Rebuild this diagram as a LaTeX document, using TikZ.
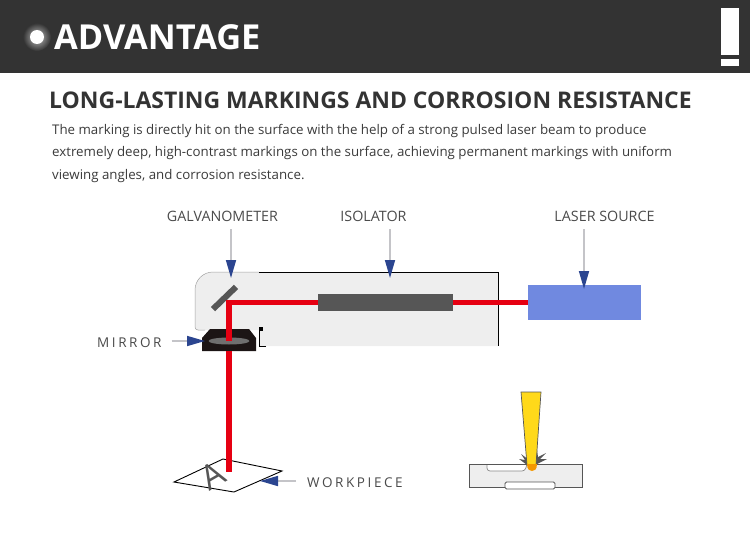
\documentclass[tikz,border=0pt]{standalone}
\usepackage{fontspec}
\setmainfont{Open Sans}
\usetikzlibrary{
    arrows.meta,
    positioning,
    shapes.geometric,
}
\definecolor{headerGrey}{HTML}{333333}
\definecolor{inkGrey}{HTML}{3A3A3A}
\definecolor{labelGrey}{HTML}{4A4A4A}
\definecolor{housingGrey}{HTML}{EEEEEE}
\definecolor{partGrey}{HTML}{565656}
\definecolor{beamRed}{HTML}{E60012}
\definecolor{laserBlue}{HTML}{7089E0}
\definecolor{tipBlue}{HTML}{2B4590}
\definecolor{shaftGrey}{HTML}{C4C4C8}
\definecolor{lensBlack}{HTML}{1C1515}
\definecolor{sparkYellow}{HTML}{FFD91A}
\definecolor{meltOrange}{HTML}{F39800}

\begin{document}
\begin{tikzpicture}[
    x=1pt, y=-1pt,
    heading/.style={anchor=west, inner sep=0pt, font=\bfseries},
    bodyline/.style={anchor=west, inner sep=0pt, text=inkGrey, font=\fontsize{13.3}{15}\selectfont},
    partlabel/.style={inner sep=0pt, minimum height=26pt, text=labelGrey, font=\fontsize{14.3}{15}\selectfont},
    widelabel/.style={inner sep=0pt, text=labelGrey, font=\fontsize{13.5}{15}\selectfont\addfontfeatures{LetterSpace=19}},
    pointer/.style={draw=shaftGrey, line width=1.6pt,
                    -{Triangle[length=18pt, width=10pt, color=tipBlue]}},
    beam/.style={draw=beamRed, line width=5.2pt},
    spark/.style={fill=partGrey, draw=none}
]
\useasboundingbox (0,0) rectangle (750,535);

% header band
\fill[headerGrey] (0,0) rectangle (750,73);
\shade[inner color=white!70!headerGrey, outer color=headerGrey] (37,37) circle (14);
\node[circle, fill=white, minimum size=14pt, inner sep=0pt] (dot) at (37,37) {};
\node[heading, text=white, font=\bfseries\fontsize{34.4}{36}\selectfont] (advantage) at (54,37) {ADVANTAGE};
\node[fill=white, minimum width=18pt, minimum height=47pt, inner sep=0pt, anchor=north west] (barLong) at (721,8) {};
\node[fill=white, minimum width=18pt, minimum height=7pt, inner sep=0pt, below=3pt of barLong] (barShort) {};

% title and text
\node[heading, text=headerGrey, font=\bfseries\fontsize{22.95}{26}\selectfont] (title) at (49,100) {LONG-LASTING MARKINGS AND CORROSION RESISTANCE};
\node[bodyline] (lineOne) at (52,131) {The marking is directly hit on the surface with the help of a strong pulsed laser beam to produce};
\node[bodyline] (lineTwo) at (52,153.5) {extremely deep, high-contrast markings on the surface, achieving permanent markings with uniform};
\node[bodyline] (lineThree) at (52,176) {viewing angles, and corrosion resistance.};

% housing
\fill[housingGrey] (498,272) [rounded corners=18pt] -- (195,272) [rounded corners=3pt] -- (195,330) [sharp corners] -- (259,330) -- (259,346) -- (498,346) -- cycle;
\draw[partGrey!55, line width=0.5pt] (259,272) [rounded corners=18pt] -- (195,272) [rounded corners=3pt] -- (195,330) [sharp corners] -- (205,330);
\draw[black, line width=0.9pt] (259,272) -- (498,272) -- (498,346);
\draw[black, line width=0.9pt] (266,346) -- (259.5,346) -- (259.5,329);
\fill[black] (259,327) rectangle (263,331);

% optics
\node[rectangle, fill=partGrey, minimum width=135pt, minimum height=17pt, inner sep=0pt] (isolator) at (385.5,302.5) {};
\node[rectangle, fill=laserBlue, minimum width=113pt, minimum height=35pt, inner sep=0pt] (laser) at (584.5,302.5) {};
\node[rectangle, fill=partGrey, minimum width=32pt, minimum height=6pt, inner sep=0pt, rotate=44] (galvoMirror) at (224.5,298) {};

\coordinate (bend) at (229,302.5);
\coordinate (lensTop) at (229,341);
\coordinate (lensExit) at (229,351);
\coordinate (spot) at (229,472);
\draw[beam] (laser.west) -- (isolator.east);
\draw[beam] (isolator.west) -- (bend.center) -- (lensTop);

% focus lens
\fill[lensBlack] (210,329) -- (249,329) -- (256,338) -- (256,351) -- (202,351) -- (202,338) -- cycle;
\node[ellipse, fill=partGrey!85!white, minimum width=41pt, minimum height=7pt, inner sep=0pt] (lens) at (229,341) {};
\draw[beam] (229,329) -- (lensTop);
\draw[beam] (lensExit) -- (spot);

% workpiece
\draw[black, line width=0.9pt] (174,482) -- (223,459) -- (282,471) -- (234,492) -- cycle;
\draw[beam] (229,459) -- (spot);
\node[inner sep=0pt, rotate=30, text=partGrey, font=\fontsize{34}{35}\selectfont] (letterA) at (213,476) {A};

% labels and pointers
\node[partlabel] (galvoLabel) at (222.5,216) {GALVANOMETER};
\node[partlabel] (isolatorLabel) at (373.5,216) {ISOLATOR};
\node[partlabel] (laserLabel) at (604.5,216) {LASER SOURCE};
\node[widelabel, anchor=west] (mirrorLabel) at (97,343) {MIRROR};
\node[widelabel, anchor=west] (workLabel) at (307,483) {WORKPIECE};

\coordinate (galvoTip) at (231,278);
\coordinate (isolatorTip) at (390,278);
\coordinate (laserTip) at (584,289);
\coordinate (mirrorTip) at (205,341);
\coordinate (workTip) at (260,481);
\draw[pointer] (galvoLabel.south -| galvoTip) -- (galvoTip);
\draw[pointer] (isolatorLabel.south -| isolatorTip) -- (isolatorTip);
\draw[pointer] (laserLabel.south -| laserTip) -- (laserTip);
\draw[pointer, shorten <=10pt] (mirrorLabel.east |- mirrorTip) -- (mirrorTip);
\draw[pointer, shorten <=11pt] (workLabel.west |- workTip) -- (workTip);

% marking detail
\draw[fill=housingGrey, draw=partGrey, line width=1pt] (469,464) rectangle (582,487);
\draw[fill=white, draw=partGrey!70, line width=0.7pt, rounded corners=3pt] (487,464) -- (487,471) -- (525,471) -- (527,464);
\draw[partGrey, line width=1pt] (486,464) -- (530,464);
\draw[fill=white, draw=partGrey, line width=0.8pt, rounded corners=1.5pt] (505,482) rectangle (555,489);
\fill[spark] (527,465) -- (519,459) -- (525,460) -- (521,454) -- (529,460) -- cycle;
\fill[spark] (535,465) -- (547,459) -- (540,459) -- (546,453) -- (538,457) -- (537,450) -- (533,460) -- cycle;
\draw[fill=sparkYellow, draw=partGrey, line width=0.7pt] (521,392) -- (541,392) -- (536,465) -- (527,465) -- cycle;
\fill[meltOrange] (527,464) -- (537,464) .. controls (537,470) and (534,471) .. (532,471) .. controls (530,471) and (527,470) .. (527,464) -- cycle;
\end{tikzpicture}
\end{document}
